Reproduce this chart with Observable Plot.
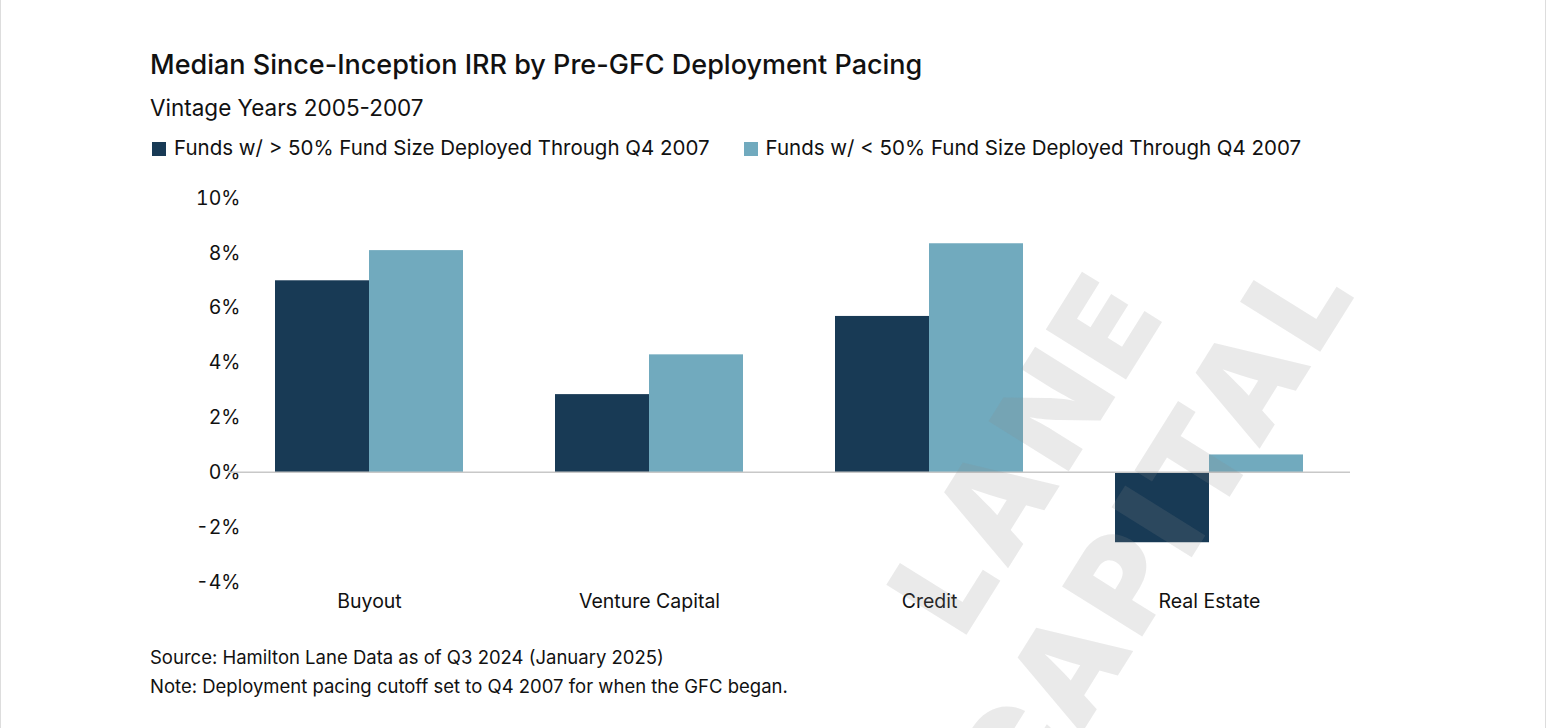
<!DOCTYPE html>
<html><head><meta charset="utf-8">
<script src="https://cdn.jsdelivr.net/npm/d3@7"></script>
<script src="https://cdn.jsdelivr.net/npm/@observablehq/plot@0.6"></script>
<style>
body{margin:0;background:#fff;font-family:Inter,"Noto Sans",sans-serif;color:#111;width:1548px;height:728px;overflow:hidden;position:relative}
.frame{position:absolute;left:0;top:0;width:1544px;height:728px;border-left:1px solid #ddd;border-right:1px solid #ddd}
.t{position:absolute;left:150px;top:48px;font-size:27px;font-weight:500}
.s{position:absolute;left:150px;top:94px;font-size:22.5px}
.l{position:absolute;left:152px;top:135px;font-size:20.5px;display:flex;gap:34px}
.l span i{display:inline-block;width:14px;height:14px;margin-right:8px;vertical-align:-1px}
#c{position:absolute;left:0;top:180px}
.cap{position:absolute;left:150px;top:643px;font-size:18.5px;line-height:29px}
.wm{position:absolute;left:690px;top:340px;width:800px;text-align:center;font-size:130px;font-weight:900;line-height:150px;color:rgba(140,140,140,0.18);transform:rotate(-58deg);white-space:nowrap;pointer-events:none;letter-spacing:8px}
</style></head><body>
<div class="frame"></div>
<div class="t">Median Since-Inception IRR by Pre-GFC Deployment Pacing</div>
<div class="s">Vintage Years 2005-2007</div>
<div class="l"><span><i style="background:#183a55"></i>Funds w/ &gt; 50% Fund Size Deployed Through Q4 2007</span><span><i style="background:#71aabe"></i>Funds w/ &lt; 50% Fund Size Deployed Through Q4 2007</span></div>
<div id="c"></div>
<div class="cap">Source: Hamilton Lane Data as of Q3 2024 (January 2025)<br>Note: Deployment pacing cutoff set to Q4 2007 for when the GFC began.</div>
<div class="wm">LANE<br>CAPITAL</div>
<script>
const categories=["Buyout","Venture Capital","Credit","Real Estate"];
const series=["Funds w/ > 50% Fund Size Deployed Through Q4 2007","Funds w/ < 50% Fund Size Deployed Through Q4 2007"];
const above50=[7.0,2.85,5.7,-2.55];
const below50=[8.1,4.3,8.35,0.65];
const yTicks=[-4,-2,0,2,4,6,8,10];
const colors=["#183a55","#71aabe"];
const data=[];
categories.forEach((c,i)=>{data.push({cat:c,s:series[0],v:above50[i]});data.push({cat:c,s:series[1],v:below50[i]});});
const chart=Plot.plot({
  width:1548,height:440,marginLeft:228,marginRight:198,marginTop:18,marginBottom:38,
  style:{fontFamily:"Inter, 'Noto Sans', sans-serif",fontSize:"19.5px",color:"#111"},
  fx:{domain:categories,paddingInner:0.33,paddingOuter:0.165,label:null},
  x:{domain:series,padding:0,axis:null},
  y:{domain:[-4,10],ticks:yTicks,tickFormat:d=>d+"%",label:null},
  color:{domain:series,range:colors},
  marks:[
    Plot.barY(data,{fx:"cat",x:"s",y:"v",fill:"s"}),
    Plot.axisY({ticks:yTicks,tickFormat:d=>d+"%",tickSize:0,tickPadding:35,label:null}),
    Plot.axisFx({anchor:"bottom",tickSize:0,tickPadding:12,label:null})
  ]
});
// full-width zero baseline drawn through the y scale
const ys=chart.scale("y");
d3.select(chart).append("line").attr("x1",228).attr("x2",1350).attr("y1",ys.apply(0)).attr("y2",ys.apply(0)).attr("stroke","#c8c8c8").attr("stroke-width",1.5);
document.getElementById("c").appendChild(chart);
</script>
</body></html>
